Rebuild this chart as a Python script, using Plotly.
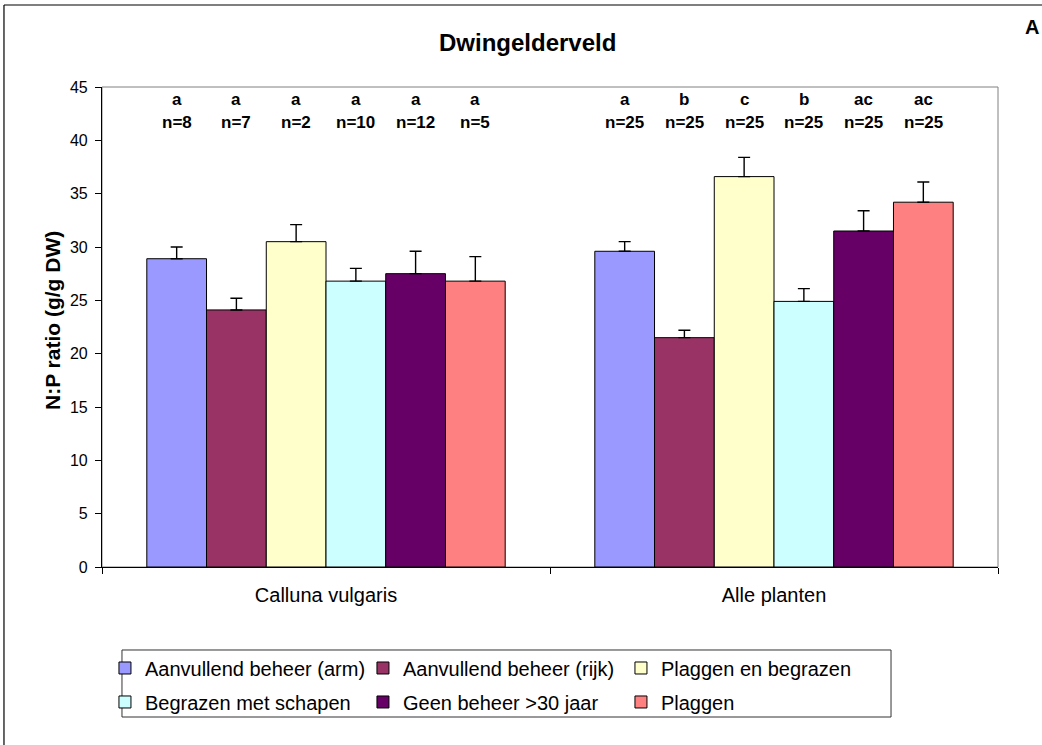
import plotly.graph_objects as go

categories = ["Calluna vulgaris", "Alle planten"]
series_names = ["Aanvullend beheer (arm)", "Aanvullend beheer (rijk)", "Plaggen en begrazen",
                "Begrazen met schapen", "Geen beheer >30 jaar", "Plaggen"]
colors = ["#9999FF", "#993366", "#FFFFCC", "#CCFFFF", "#660066", "#FF8080"]
calluna_means = [28.9, 24.1, 30.5, 26.8, 27.5, 26.8]
calluna_err = [1.1, 1.1, 1.6, 1.2, 2.1, 2.3]
alle_means = [29.6, 21.5, 36.6, 24.9, 31.5, 34.2]
alle_err = [0.9, 0.7, 1.8, 1.2, 1.9, 1.9]
calluna_letters = ["a", "a", "a", "a", "a", "a"]
calluna_n = ["n=8", "n=7", "n=2", "n=10", "n=12", "n=5"]
alle_letters = ["a", "b", "c", "b", "ac", "ac"]
alle_n = ["n=25", "n=25", "n=25", "n=25", "n=25", "n=25"]

FONT = "Arial, Liberation Sans, sans-serif"
fig = go.Figure()

for j, name in enumerate(series_names):
    fig.add_trace(go.Bar(
        x=categories, y=[calluna_means[j], alle_means[j]], name=name,
        marker=dict(color=colors[j], line=dict(color="black", width=1)),
        error_y=dict(type="data", symmetric=False, array=[calluna_err[j], alle_err[j]],
                     arrayminus=[0, 0], color="black", thickness=1.4, width=6),
        legend="legend" if j < 3 else "legend2",
    ))

ann = []
nb = len(series_names)
bw = 0.8 / nb
for i, (letters, ns) in enumerate([(calluna_letters, calluna_n), (alle_letters, alle_n)]):
    for j in range(nb):
        xpos = i + (j - (nb - 1) / 2) * bw
        ann.append(dict(x=xpos, y=43.8, xref="x", yref="y", text="<b>%s</b>" % letters[j],
                        showarrow=False, font=dict(size=17, color="black", family=FONT)))
        ann.append(dict(x=xpos, y=41.7, xref="x", yref="y", text="<b>%s</b>" % ns[j],
                        showarrow=False, font=dict(size=17, color="black", family=FONT)))

ann.append(dict(x=0.4754, y=1.0937, xref="paper", yref="paper", text="<b>Dwingelderveld</b>",
                xanchor="center", yanchor="middle",
                showarrow=False, font=dict(size=24, color="black", family=FONT)))
ann.append(dict(x=1.0379, y=1.125, xref="paper", yref="paper", text="<b>A</b>",
                xanchor="center", yanchor="middle",
                showarrow=False, font=dict(size=20, color="black", family=FONT)))
ann.append(dict(x=-0.0558, y=0.5125, xref="paper", yref="paper", text="<b>N:P ratio (g/g DW)</b>",
                xanchor="center", yanchor="middle",
                textangle=-90, showarrow=False, font=dict(size=21, color="black", family=FONT)))

shapes = [
    dict(type="rect", xref="paper", yref="paper", x0=0, x1=1, y0=0, y1=1,
         line=dict(color="#808080", width=1), layer="below"),
    dict(type="line", xref="paper", yref="paper", x0=-0.1094, x1=-0.1094, y0=-0.372, y1=1.1708,
         line=dict(color="black", width=1.2)),
    dict(type="line", xref="paper", yref="paper", x0=-0.1094, x1=1.05, y0=1.1708, y1=1.1708,
         line=dict(color="black", width=1.2)),
    dict(type="rect", xref="paper", yref="paper", x0=0.0223, x1=0.8806, y0=-0.3125, y1=-0.1729,
         line=dict(color="#333333", width=1)),
]

legend_common = dict(orientation="h", xanchor="left", yanchor="middle",
                     font=dict(size=20, color="black", family=FONT),
                     bgcolor="rgba(0,0,0,0)", borderwidth=0,
                     entrywidth=213, entrywidthmode="pixels", itemwidth=30,
                     traceorder="normal")

fig.update_layout(
    width=1042, height=745,
    margin=dict(l=102, r=44, t=87, b=178),
    paper_bgcolor="white", plot_bgcolor="white",
    barmode="group", bargap=0.2, bargroupgap=0,
    font=dict(family=FONT, color="black"),
    showlegend=True,
    legend=dict(x=0.0033, y=-0.2104, **legend_common),
    legend2=dict(x=0.0033, y=-0.2812, **legend_common),
    annotations=ann, shapes=shapes,
    xaxis=dict(range=[-0.5, 1.5], showline=True, linecolor="black", linewidth=1.2,
               ticks="outside", tickson="boundaries", ticklen=6, tickcolor="black",
               ticklabelstandoff=10,
               tickfont=dict(size=20, family=FONT, color="black"), showgrid=False),
    yaxis=dict(range=[0, 45], dtick=5, showline=True, linecolor="black", linewidth=1.2,
               ticks="outside", ticklen=6, tickcolor="black", showgrid=False, zeroline=False,
               ticklabelstandoff=4,
               tickfont=dict(size=16, family=FONT, color="black")),
)

fig.write_html("out.html", config={"displayModeBar": False},
               post_script="document.body.style.margin='0';document.body.style.overflow='hidden';")
